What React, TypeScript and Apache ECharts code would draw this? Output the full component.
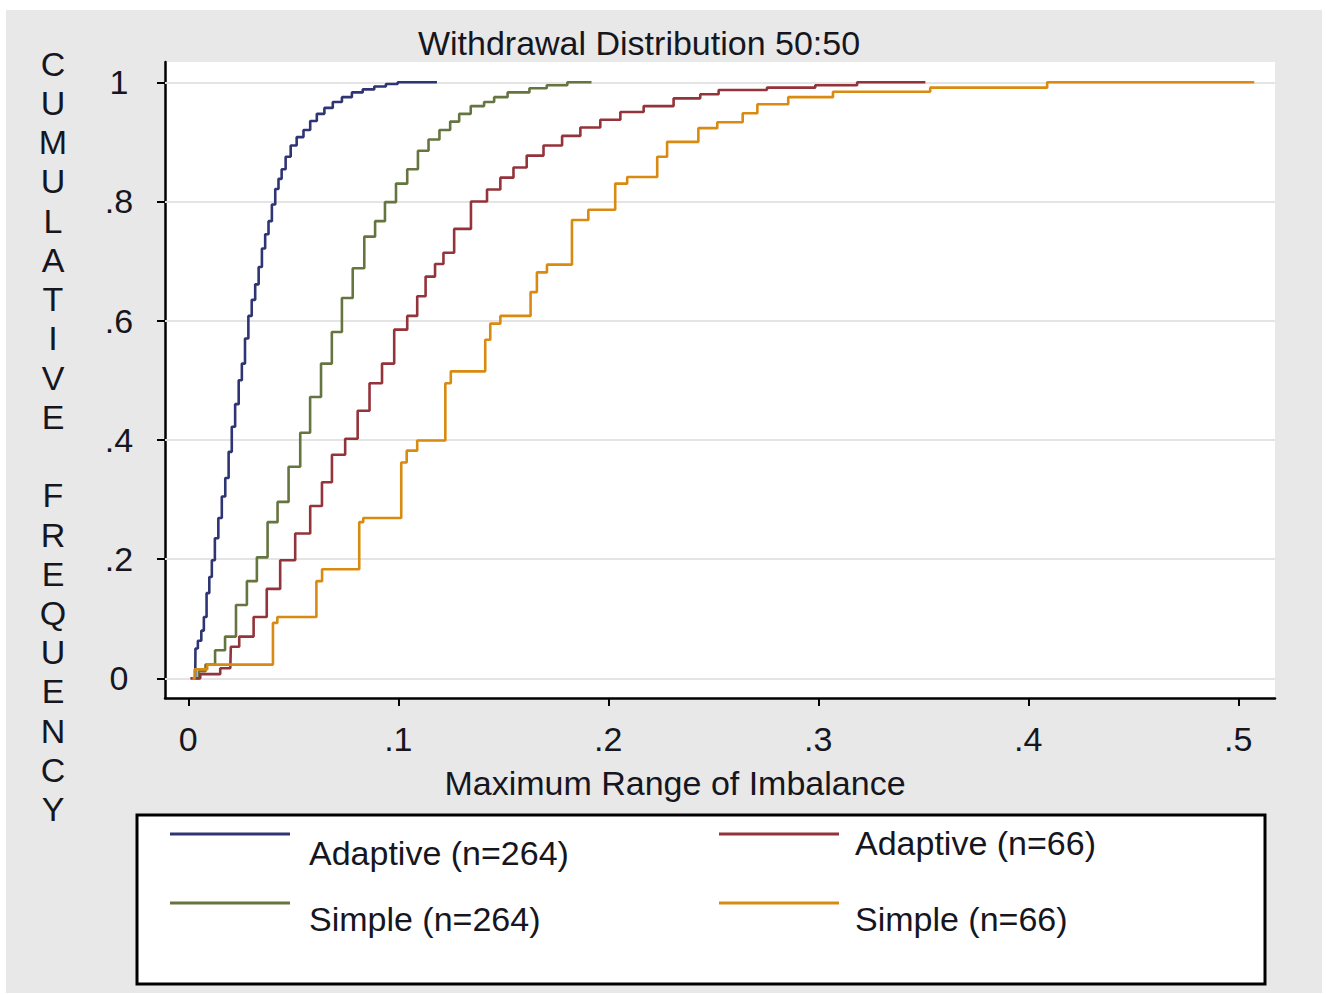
import React, { useEffect, useRef } from 'react';
import * as echarts from 'echarts';

const seriesNames = ['Adaptive (n=264)', 'Simple (n=264)', 'Adaptive (n=66)', 'Simple (n=66)'];
const seriesColors = ['#2f3474', '#65753f', '#93333a', '#d98a10'];
const seriesSteps = ['middle', 'middle', 'middle', 'end'];

const xTicks = [0, 0.1, 0.2, 0.3, 0.4, 0.5];
const yTicks = [0, 0.2, 0.4, 0.6, 0.8, 1];

const adaptive264 = [
  [0.0033, 0], [0.0035, 0.05], [0.0056, 0.063], [0.0068, 0.08], [0.008, 0.103], [0.0094, 0.143],
  [0.0106, 0.17], [0.0118, 0.198], [0.0135, 0.235], [0.0151, 0.269], [0.0168, 0.305], [0.0184, 0.336],
  [0.02, 0.38], [0.0214, 0.422], [0.0232, 0.46], [0.0248, 0.5], [0.0262, 0.528], [0.0278, 0.57],
  [0.0294, 0.608], [0.031, 0.635], [0.0327, 0.661], [0.0343, 0.69], [0.0358, 0.721], [0.0374, 0.745],
  [0.039, 0.767], [0.0406, 0.795], [0.0422, 0.821], [0.0437, 0.838], [0.0452, 0.854], [0.0475, 0.875],
  [0.05, 0.894], [0.0532, 0.908], [0.0565, 0.92], [0.0596, 0.935], [0.0628, 0.947], [0.0668, 0.957],
  [0.0708, 0.967], [0.0755, 0.975], [0.0803, 0.983], [0.0858, 0.988], [0.0913, 0.993], [0.0969, 0.997],
  [0.1025, 1.0], [0.1184, 1.0],
];

const simple264 = [
  [0.004, 0], [0.006, 0.012], [0.0104, 0.023], [0.0151, 0.047], [0.0199, 0.07], [0.0255, 0.123],
  [0.0303, 0.163], [0.035, 0.203], [0.0405, 0.262], [0.0445, 0.296], [0.051, 0.355], [0.0556, 0.412],
  [0.0604, 0.472], [0.066, 0.528], [0.0707, 0.581], [0.0756, 0.638], [0.081, 0.688], [0.0866, 0.741],
  [0.0913, 0.767], [0.096, 0.799], [0.1018, 0.83], [0.1067, 0.854], [0.112, 0.885], [0.1168, 0.904],
  [0.1224, 0.92], [0.127, 0.934], [0.131, 0.947], [0.138, 0.96], [0.1437, 0.967], [0.1476, 0.975],
  [0.1565, 0.983], [0.1684, 0.99], [0.173, 0.995], [0.188, 1.0], [0.192, 1.0],
];

const adaptive66 = [
  [0.001, 0], [0.0104, 0.007], [0.02, 0.017], [0.0205, 0.053], [0.028, 0.07], [0.0342, 0.103],
  [0.0405, 0.15], [0.047, 0.198], [0.0548, 0.243], [0.0613, 0.289], [0.066, 0.329], [0.0708, 0.375],
  [0.0786, 0.402], [0.0827, 0.449], [0.0899, 0.495], [0.0946, 0.528], [0.1015, 0.585], [0.107, 0.608],
  [0.111, 0.641], [0.115, 0.674], [0.12, 0.695], [0.123, 0.714], [0.1302, 0.754], [0.139, 0.8],
  [0.1455, 0.82], [0.1517, 0.84], [0.158, 0.857], [0.1643, 0.877], [0.174, 0.894], [0.182, 0.91],
  [0.1914, 0.924], [0.201, 0.937], [0.2105, 0.95], [0.2232, 0.96], [0.239, 0.973], [0.2486, 0.98],
  [0.2565, 0.987], [0.2946, 0.991], [0.3025, 0.995], [0.3345, 1.0], [0.351, 1.0],
];

const simple66 = [
  [0.002, 0], [0.003, 0.015], [0.009, 0.023], [0.0403, 0.093], [0.0424, 0.103], [0.061, 0.163],
  [0.0637, 0.183], [0.0814, 0.262], [0.0833, 0.269], [0.1014, 0.362], [0.104, 0.382], [0.109, 0.399],
  [0.1224, 0.495], [0.125, 0.515], [0.1414, 0.568], [0.1438, 0.595], [0.1486, 0.608], [0.163, 0.648],
  [0.166, 0.681], [0.1708, 0.694], [0.1827, 0.769], [0.1905, 0.786], [0.2033, 0.83], [0.209, 0.841],
  [0.2233, 0.875], [0.228, 0.9], [0.2429, 0.923], [0.2519, 0.933], [0.264, 0.948], [0.271, 0.963],
  [0.2857, 0.975], [0.307, 0.984], [0.3533, 0.991], [0.409, 1.0], [0.5076, 1.0],
];

const seriesData = [adaptive264, simple264, adaptive66, simple66];

const FONT = '"Liberation Sans", Arial, Helvetica, sans-serif';
const TXT = '#161620';

function fmt(v: number): string {
  if (v === 0) return '0';
  if (v === 1) return '1';
  return String(+v.toFixed(2)).replace(/^0/, '');
}

export default function App() {
  const ref = useRef<HTMLDivElement>(null);

  useEffect(() => {
    if (!ref.current) return;
    const chart = echarts.init(ref.current, undefined, { renderer: 'svg' });

    const legendPos = [
      { lx: 170, ly: 834, tx: 309, ty: 853 },
      { lx: 170, ly: 903, tx: 309, ty: 919 },
      { lx: 719, ly: 834, tx: 855, ty: 843 },
      { lx: 719, ly: 903, tx: 855, ty: 919 },
    ];

    const legendGraphics: any[] = [];
    seriesNames.forEach((name, i) => {
      const p = legendPos[i];
      legendGraphics.push({
        type: 'line',
        z: 3,
        shape: { x1: p.lx, y1: p.ly, x2: p.lx + 120, y2: p.ly },
        style: { stroke: seriesColors[i], lineWidth: 3 },
      });
      legendGraphics.push({
        type: 'text',
        z: 3,
        x: p.tx,
        y: p.ty,
        style: {
          text: name,
          font: `34px ${FONT}`,
          fill: TXT,
          textAlign: 'left',
          textVerticalAlign: 'middle',
        },
      });
    });

    const option: any = {
      animation: false,
      backgroundColor: '#ffffff',
      grid: {
        left: 165,
        top: 62,
        width: 1110,
        height: 636,
        show: true,
        backgroundColor: '#ffffff',
        borderWidth: 0,
        z: 0,
      },
      xAxis: {
        type: 'value',
        min: -0.0111,
        max: 0.5175,
        axisLine: { show: true, onZero: false, lineStyle: { color: '#000', width: 2.5 } },
        axisTick: { show: true, customValues: xTicks, length: 8, lineStyle: { color: '#000', width: 2 } },
        axisLabel: {
          customValues: xTicks,
          formatter: fmt,
          margin: 24,
          fontSize: 34,
          fontFamily: FONT,
          color: TXT,
        },
        splitLine: { show: false },
      },
      yAxis: {
        type: 'value',
        min: -0.033,
        max: 1.034,
        axisLine: { show: true, onZero: false, lineStyle: { color: '#000', width: 2.5 } },
        axisTick: { show: true, customValues: yTicks, length: 8, lineStyle: { color: '#000', width: 2 } },
        axisLabel: {
          customValues: yTicks,
          formatter: fmt,
          margin: 46,
          align: 'center',
          fontSize: 34,
          fontFamily: FONT,
          color: TXT,
        },
        splitLine: { show: false },
      },
      series: seriesData.map((d, i) => ({
        name: seriesNames[i],
        type: 'line',
        step: seriesSteps[i],
        data: d,
        showSymbol: false,
        symbol: 'none',
        z: 3,
        lineStyle: { color: seriesColors[i], width: 2.6 },
        itemStyle: { color: seriesColors[i] },
        emphasis: { disabled: true },
        markLine: i === 0
          ? {
              silent: true,
              z: 1,
              symbol: ['none', 'none'],
              label: { show: false },
              lineStyle: { color: '#e4e4e4', width: 2, type: 'solid' },
              emphasis: { disabled: true },
              data: yTicks.map((v) => ({ yAxis: v })),
            }
          : undefined,
      })),
      graphic: [
        {
          type: 'rect',
          z: -2,
          shape: { x: 6, y: 10, width: 1316, height: 983 },
          style: { fill: '#e8e8e8' },
        },
        {
          type: 'rect',
          z: -1,
          shape: { x: 165, y: 62, width: 1110, height: 636 },
          style: { fill: '#ffffff' },
        },
        {
          type: 'text',
          z: 3,
          x: 639,
          y: 43,
          style: {
            text: 'Withdrawal Distribution 50:50',
            font: `34px ${FONT}`,
            fill: TXT,
            textAlign: 'center',
            textVerticalAlign: 'middle',
          },
        },
        {
          type: 'text',
          z: 3,
          x: 675,
          y: 783,
          style: {
            text: 'Maximum Range of Imbalance',
            font: `34px ${FONT}`,
            fill: TXT,
            textAlign: 'center',
            textVerticalAlign: 'middle',
          },
        },
        {
          type: 'text',
          z: 3,
          x: 53,
          y: 44,
          style: {
            text: 'C\nU\nM\nU\nL\nA\nT\nI\nV\nE\n \nF\nR\nE\nQ\nU\nE\nN\nC\nY',
            font: `34px ${FONT}`,
            lineHeight: 39.24,
            fill: TXT,
            textAlign: 'center',
            textVerticalAlign: 'top',
          },
        },
        {
          type: 'rect',
          z: 2,
          shape: { x: 137, y: 815, width: 1128, height: 169 },
          style: { fill: '#ffffff', stroke: '#000000', lineWidth: 3 },
        },
        ...legendGraphics,
      ],
    };

    chart.setOption(option);
    return () => {
      chart.dispose();
    };
  }, []);

  return (
    <div
      ref={ref}
      style={{ position: 'fixed', left: 0, top: 0, width: 1326, height: 995 }}
    />
  );
}
